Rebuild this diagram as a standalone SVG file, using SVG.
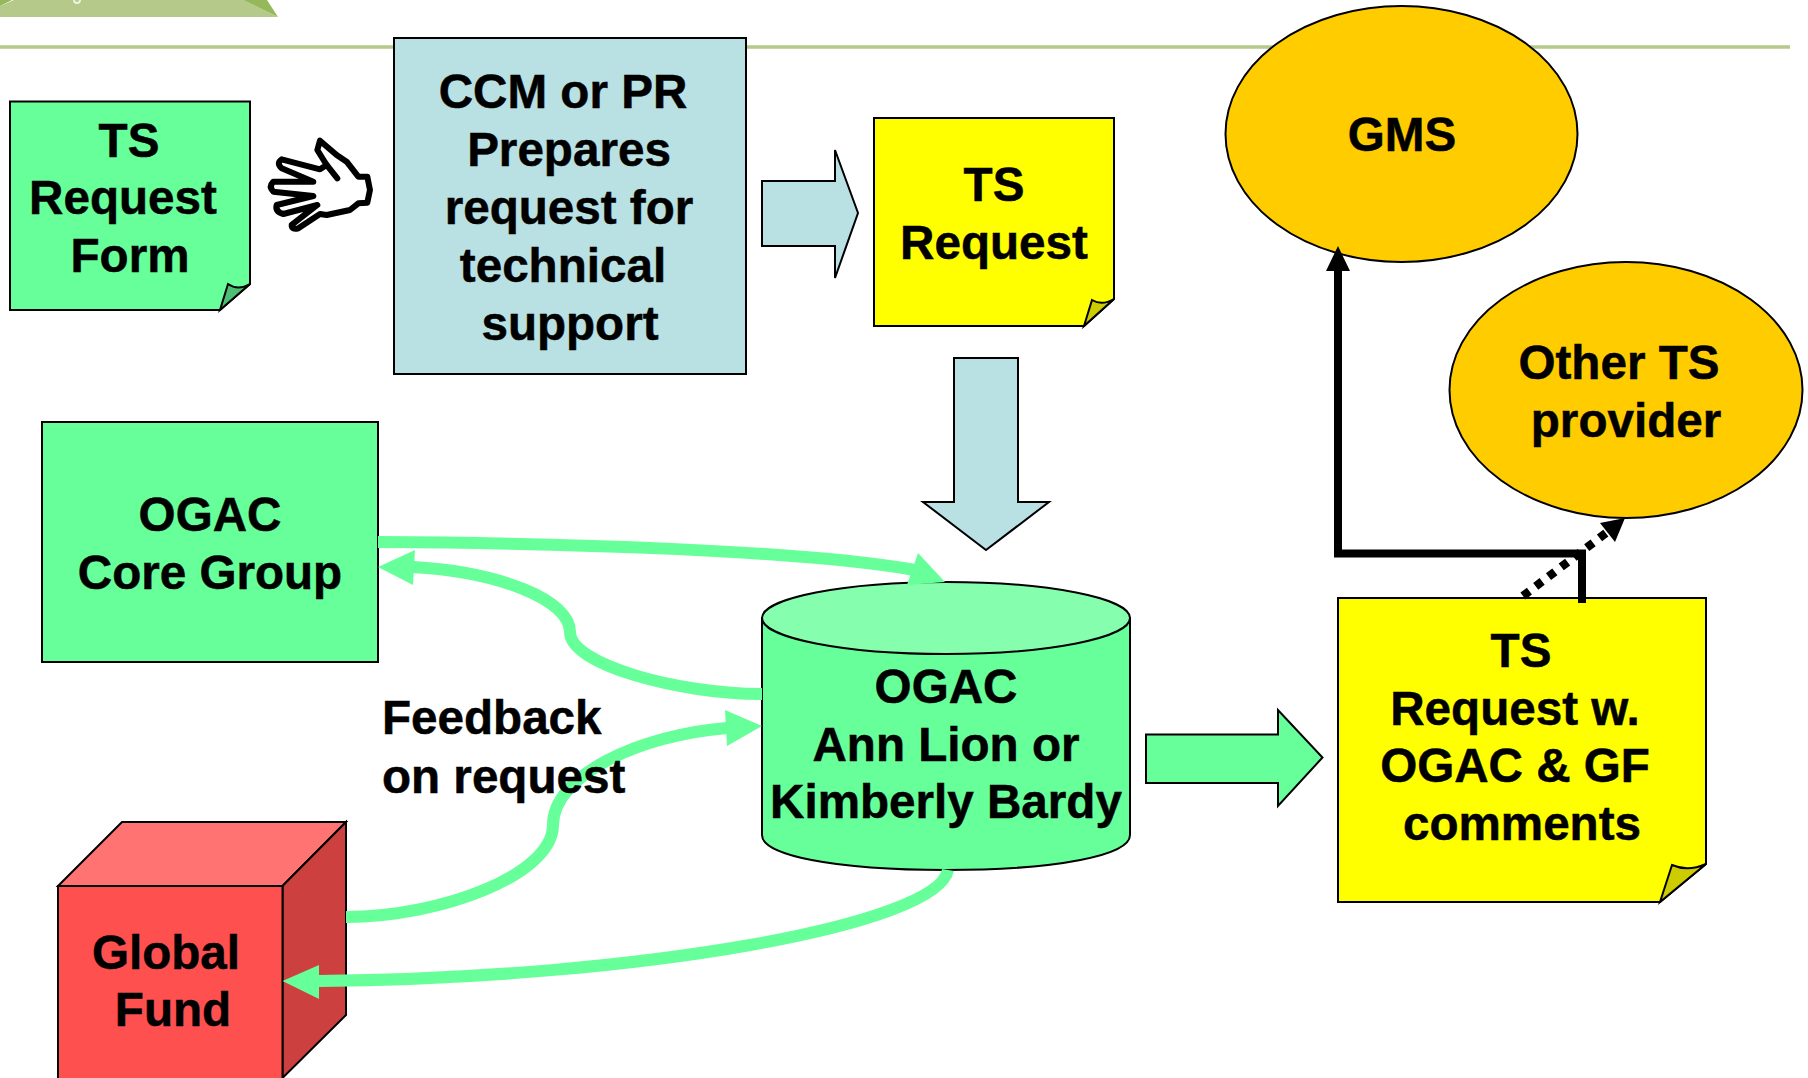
<svg xmlns="http://www.w3.org/2000/svg" width="1808" height="1078" viewBox="0 0 1808 1078">
<style>
text{font-family:"Liberation Sans",Arial,sans-serif;font-weight:700;font-size:47.6px;fill:#000;stroke:#000;stroke-width:.5px;text-anchor:middle}
.s{stroke:#000;stroke-width:2}
.g{fill:#66ff99}.b{fill:#b9e0e3}.y{fill:#ffff00}.o{fill:#ffcc00}
.c{fill:none;stroke:#66ff99;stroke-width:12}
.h{fill:#66ff99}
</style>
<rect width="1808" height="1078" fill="#fff"/>
<g id="banner">
<polygon points="0,17 0,6 14,0 243,0 278,17" fill="#b5c98a"/>
<polygon points="0,0 12,0 0,6" fill="#95b85a"/>
<polygon points="243,0 267,0 278,17" fill="#95b85a"/>
<circle cx="77" cy="0" r="3" fill="none" stroke="#eef2e0" stroke-width="2"/>
<line x1="0" y1="47" x2="1790" y2="47" stroke="#b5c98a" stroke-width="3.5"/>
</g>
<g id="ts-request-form">
<polygon class="s g" points="10,101.500 250,101.500 250,284 220,310 10,310"/>
<path class="s" d="M220 310 L228 284 Q238 291 250 284 Z" fill="#4dbf73"/>
<text x="129" y="157">TS</text><text x="123" y="214">Request</text><text x="130" y="272">Form</text>
</g>
<g id="hand" transform="translate(230 110) scale(.3333)">
<path d="M270 92 L320 135 L350 155 L385 200 L412 200 L420 240 L412 278 L385 280 L360 300 L290 315 L270 312 L205 355 Q185 360 185 345 L262 285 L160 312 Q135 305 140 285 L250 258 L130 245 Q115 230 130 215 L250 215 L155 175 Q138 160 155 148 L270 178 L290 165 L262 120 Z" fill="#fff" stroke="#000" stroke-width="18" stroke-linejoin="round" stroke-linecap="round"/>
<path d="M290 165 L322 205" fill="none" stroke="#000" stroke-width="18" stroke-linecap="round"/>
</g>
<g id="ccm">
<rect class="s b" x="394" y="38" width="352" height="336"/>
<text x="563" y="108">CCM or PR</text><text x="569" y="166">Prepares</text><text x="569" y="224">request for</text><text x="563" y="282">technical</text><text x="570" y="340">support</text>
</g>
<g id="arrow-right-1"><polygon class="s b" points="762,181 835,181 835,150 858,213 835,278 835,246 762,246"/></g>
<g id="ts-request">
<polygon class="s y" points="874,118 1114,118 1114,299 1084,326 874,326"/>
<path class="s" d="M1084 326 L1092 300 Q1102 306 1114 299 Z" fill="#cccc00"/>
<text x="994" y="201">TS</text><text x="994" y="259">Request</text>
</g>
<g id="arrow-down"><polygon class="s b" points="954,358 1018,358 1018,502 1049,502 986,550 923,502 954,502"/></g>
<g id="ogac-core">
<rect class="s g" x="42" y="422" width="336" height="240"/>
<text x="210" y="531">OGAC</text><text x="210" y="589">Core Group</text>
</g>
<g id="ogac-ann">
<path class="s g" d="M762 618 V835 C762 855 833 870 946 870 C1059 870 1130 855 1130 835 V618 Z"/>
<ellipse class="s" cx="946" cy="618" rx="184" ry="36" fill="#85ffad"/>
<text x="946" y="703">OGAC</text><text x="946" y="761">Ann Lion or</text><text x="946" y="818">Kimberly Bardy</text>
</g>
<g id="global-fund">
<polygon class="s" points="58,886 122,822 346,822 282.500,886" fill="#ff7373"/>
<polygon class="s" points="282.500,886 346,822 346,1015 282.500,1078" fill="#cc4040"/>
<rect class="s" x="58" y="886" width="224.500" height="200" fill="#ff5050"/>
<text x="166" y="969">Global</text><text x="173" y="1026">Fund</text>
</g>
<g id="gms">
<ellipse class="s o" cx="1401.500" cy="134" rx="176" ry="128"/>
<text x="1402" y="151">GMS</text>
</g>
<g id="other-ts">
<ellipse class="s o" cx="1626" cy="390" rx="176.500" ry="128"/>
<text x="1619" y="379">Other TS</text><text x="1626" y="437">provider</text>
</g>
<g id="arrow-right-2"><polygon class="s g" points="1146,734.500 1278,734.500 1278,710 1322.500,757.500 1278,806 1278,783 1146,783"/></g>
<g id="ts-request-comments">
<polygon class="s y" points="1338,598 1706,598 1706,864 1660,902 1338,902"/>
<path class="s" d="M1660 902 L1672 865 Q1688 872 1706 864 Z" fill="#cccc00"/>
<text x="1521" y="667">TS</text><text x="1515" y="725">Request w.</text><text x="1515" y="782">OGAC &amp; GF</text><text x="1522" y="840">comments</text>
</g>
<g id="connectors">
<path class="c" d="M378 542 C560 543 800 550 915 570"/>
<polygon class="h" points="945,582 918,553 907,585"/>
<path class="c" d="M762 694 C680 694 570 665 570 632 C570 600 500 572 413 567"/>
<polygon class="h" points="378,567 415,550 413,585"/>
<path class="c" d="M346 917 C440 917 553 875 553 825 C553 775 640 735 727 728"/>
<polygon class="h" points="762,726 725,710 727,746"/>
<path class="c" d="M948 870 C938 925 640 978 319 981"/>
<polygon class="h" points="282.500,981 319,965 319,999"/>
<path d="M1582 603 V553.500 H1338 V268" fill="none" stroke="#000" stroke-width="8"/>
<polygon points="1338,246 1326,271 1350,271"/>
<line x1="1523" y1="596" x2="1606" y2="533" stroke="#000" stroke-width="8.500" stroke-dasharray="8 8"/>
<polygon points="1625,518 1600,523 1615,542"/>
</g>
<g id="feedback-label">
<text x="382" y="734" style="text-anchor:start">Feedback</text><text x="382" y="793" style="text-anchor:start">on request</text>
</g>
</svg>
